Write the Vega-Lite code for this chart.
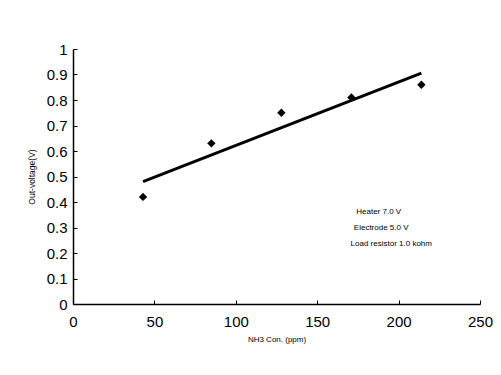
{
  "$schema": "https://vega.github.io/schema/vega-lite/v6.json",
  "autosize": {"type": "none"},
  "padding": {"left": 73, "top": 49, "right": 21, "bottom": 71},
  "width": 407,
  "height": 255,
  "background": "white",
  "config": {
    "view": {"stroke": null},
    "font": "Liberation Sans",
    "axis": {
      "grid": false,
      "domainColor": "black",
      "domainWidth": 1.5,
      "tickColor": "black",
      "labelColor": "black",
      "titleColor": "black",
      "labelFont": "Liberation Sans",
      "titleFont": "Liberation Sans",
      "titleFontWeight": "normal",
      "labelFontSize": 15,
      "titleFontSize": 8
    }
  },
  "datasets": {
    "points": [
      {"conc": 43, "voltage": 0.42},
      {"conc": 85, "voltage": 0.63},
      {"conc": 128, "voltage": 0.75},
      {"conc": 171, "voltage": 0.81},
      {"conc": 214, "voltage": 0.86}
    ],
    "trend": [
      {"conc": 43, "voltage": 0.48},
      {"conc": 214, "voltage": 0.905}
    ],
    "notes": [
      {"conc": 174, "voltage": 0.36, "label": "Heater 7.0 V"},
      {"conc": 172.5, "voltage": 0.298, "label": "Electrode 5.0 V"},
      {"conc": 170.5, "voltage": 0.235, "label": "Load resistor 1.0 kohm"}
    ]
  },
  "encoding": {
    "x": {
      "field": "conc", "type": "quantitative",
      "scale": {"domain": [0, 250], "nice": false},
      "axis": {
        "title": "NH3 Con. (ppm)",
        "tickCount": 5,
        "labelExpr": "'' + datum.value",
        "labelOverlap": false,
        "labelFlush": false,
        "labelBound": false,
        "tickSize": -4,
        "labelPadding": 14,
        "titlePadding": 6
      }
    },
    "y": {
      "field": "voltage", "type": "quantitative",
      "scale": {"domain": [0, 1], "nice": false},
      "axis": {
        "title": "Out-voltage(V)",
        "tickCount": 10,
        "labelExpr": "'' + datum.value",
        "labelOverlap": false,
        "labelFlush": false,
        "labelBound": false,
        "tickSize": -4,
        "labelPadding": 10,
        "titlePadding": 10,
        "titleFontSize": 8.5
      }
    }
  },
  "layer": [
    {
      "data": {"name": "trend"},
      "mark": {"type": "line", "color": "black", "strokeWidth": 3}
    },
    {
      "data": {"name": "points"},
      "mark": {"type": "point", "shape": "diamond", "filled": true, "color": "black", "size": 70, "opacity": 1}
    },
    {
      "data": {"name": "notes"},
      "mark": {"type": "text", "align": "left", "baseline": "middle", "fontSize": 8, "color": "black", "font": "Liberation Sans"},
      "encoding": {
        "text": {"field": "label"}
      }
    }
  ]
}
